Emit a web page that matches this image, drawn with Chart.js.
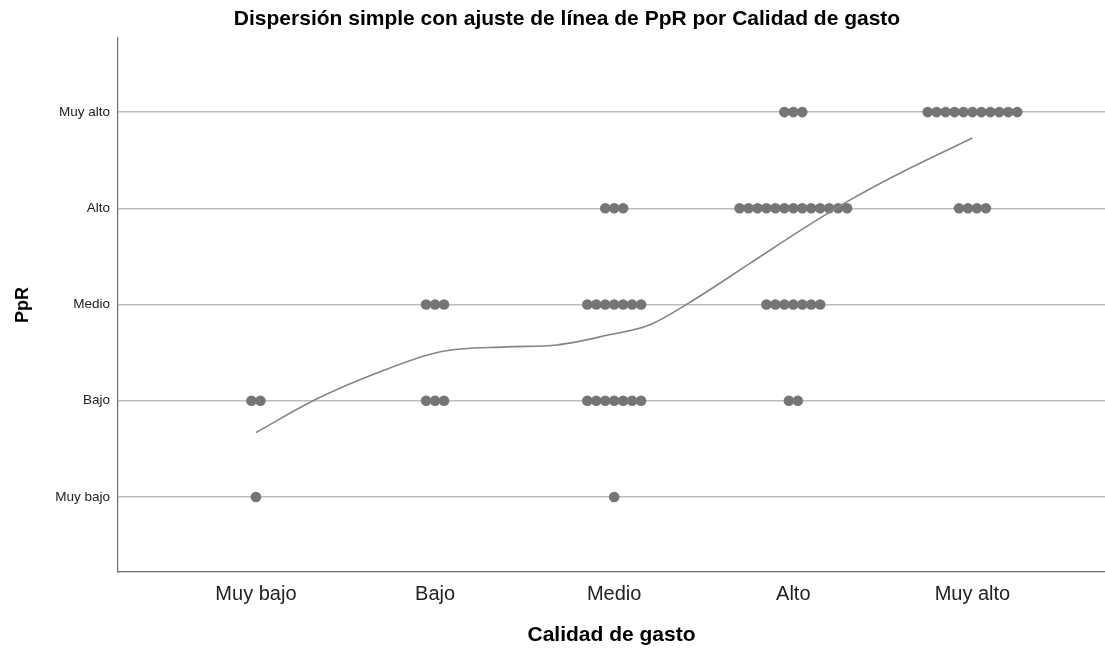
<!DOCTYPE html>
<html lang="es">
<head>
    <meta charset="UTF-8">
    <title>Dispersión PpR por Calidad de gasto</title>
    <script src="https://cdn.jsdelivr.net/npm/chart.js"></script>
    <style>
        html, body { margin: 0; padding: 0; background: #fff; }
        #grafico { width: 1105px; height: 652px; }
    </style>
</head>
<body>
    <div id="grafico">
        <canvas id="myChartCanvas"></canvas>
    </div>

    <script>
        // categorias de ambos ejes
        const categorias = ['Muy bajo', 'Bajo', 'Medio', 'Alto', 'Muy alto'];

        // cantidad de casos por nivel de PpR, en el orden de Calidad de gasto
        const nMuyBajo = [1, 0, 1, 0, 0];
        const nBajo    = [2, 3, 7, 2, 0];
        const nMedio   = [0, 3, 7, 7, 0];
        const nAlto    = [0, 0, 3, 13, 4];
        const nMuyAlto = [0, 0, 0, 3, 11];

        // linea de ajuste
        const ajusteX = [1.00, 1.33, 1.65, 2.03, 2.40, 2.68, 2.96, 3.20, 3.42, 3.76, 4.04, 4.32, 4.60, 5.00];
        const ajusteY = [1.67, 2.01, 2.27, 2.51, 2.56, 2.58, 2.68, 2.79, 3.02, 3.43, 3.77, 4.09, 4.37, 4.73];

        const paso = 0.05; // separacion entre puntos apilados

        const niveles = [nMuyBajo, nBajo, nMedio, nAlto, nMuyAlto];
        let puntos = [];
        niveles.forEach((fila, iy) => {
            fila.forEach((n, ix) => {
                for (let k = 0; k < n; k++) {
                    puntos.push({ x: ix + 1 + (k - (n - 1) / 2) * paso, y: iy + 1 });
                }
            });
        });

        let lineaAjuste = ajusteX.map((x, i) => ({ x: x, y: ajusteY[i] }));

        const fuente = "'Liberation Sans', Arial, sans-serif";

        function ticksFijos(scale) {
            scale.ticks = categorias.map((c, i) => ({ value: i + 1 }));
        }

        const tituloPlugin = {
            id: 'tituloPlugin',
            afterDraw(chart) {
                const ctx = chart.ctx;
                ctx.save();
                ctx.font = "bold 21px " + fuente;
                ctx.fillStyle = '#000';
                ctx.textAlign = 'center';
                ctx.textBaseline = 'middle';
                ctx.fillText('Dispersión simple con ajuste de línea de PpR por Calidad de gasto', 567, 19);
                ctx.restore();
            }
        };

        const config = {
            type: 'scatter',
            data: {
                datasets: [
                    {
                        label: 'Ajuste',
                        type: 'line',
                        data: lineaAjuste,
                        borderColor: '#858585',
                        borderWidth: 1.6,
                        pointRadius: 0,
                        fill: false,
                        cubicInterpolationMode: 'monotone'
                    },
                    {
                        label: 'PpR',
                        data: puntos,
                        backgroundColor: '#757575',
                        borderColor: '#757575',
                        pointRadius: 5.3,
                        pointBorderWidth: 0
                    }
                ]
            },
            options: {
                responsive: true,
                maintainAspectRatio: false,
                animation: false,
                layout: { autoPadding: false, padding: { top: 38, right: 0, left: 0, bottom: 0 } },
                plugins: {
                    legend: { display: false },
                    tooltip: { enabled: false }
                },
                scales: {
                    x: {
                        type: 'linear',
                        min: 0.23,
                        max: 5.74,
                        afterBuildTicks: ticksFijos,
                        afterFit: (scale) => { scale.height = 80; },
                        grid: { display: false, drawTicks: false },
                        border: { display: true, color: '#6e6e6e', width: 1.2 },
                        ticks: {
                            color: '#222',
                            padding: 10,
                            font: { family: fuente, size: 20 },
                            callback: (v) => categorias[Math.round(v) - 1]
                        },
                        title: {
                            display: true,
                            text: 'Calidad de gasto',
                            color: '#000',
                            padding: { top: 8 },
                            font: { family: fuente, size: 21, weight: 'bold' }
                        }
                    },
                    y: {
                        type: 'linear',
                        min: 0.22,
                        max: 5.77,
                        afterBuildTicks: ticksFijos,
                        afterFit: (scale) => { scale.width = 118; },
                        grid: {
                            color: '#bdbdbd',
                            lineWidth: 1.5,
                            drawTicks: false
                        },
                        border: { display: true, color: '#6e6e6e', width: 1.2 },
                        ticks: {
                            color: '#222',
                            padding: 8,
                            font: { family: fuente, size: 13.5 },
                            callback: (v) => categorias[Math.round(v) - 1]
                        },
                        title: {
                            display: true,
                            text: 'PpR',
                            color: '#000',
                            padding: { top: 12, bottom: 4 },
                            font: { family: fuente, size: 18, weight: 'bold' }
                        }
                    }
                }
            },
            plugins: [tituloPlugin]
        };

        let myChart = new Chart(document.getElementById('myChartCanvas'), config);
    </script>
</body>
</html>
